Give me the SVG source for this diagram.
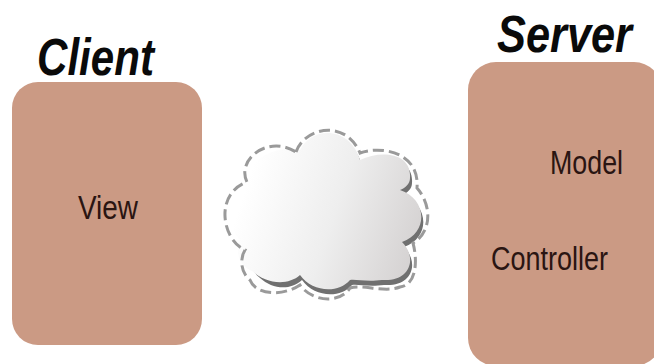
<svg xmlns="http://www.w3.org/2000/svg" width="654" height="364" viewBox="0 0 654 364">
<style>
.box{fill:#cb9a84}
.t{font-family:"Liberation Sans",Arial,sans-serif;fill:#2a1512;font-size:33px}
.h{font-family:"Liberation Sans",Arial,sans-serif;fill:#0a0a0a;font-size:52px;font-weight:bold;font-style:italic}
</style>
<defs>
<linearGradient id="g" gradientUnits="userSpaceOnUse" x1="245" y1="190" x2="420" y2="250"><stop offset="0" stop-color="#ffffff"/><stop offset="0.5" stop-color="#eeeeee"/><stop offset="1" stop-color="#d4d1d1"/></linearGradient>
<filter id="b" x="-5%" y="-5%" width="110%" height="110%"><feGaussianBlur stdDeviation="0.7"/></filter>
</defs>
<rect width="654" height="364" fill="#fff"/>
<g id="client">
<rect class="box" x="12" y="82" width="190" height="263" rx="26"/>
<text class="t" x="78" y="219" textLength="60" lengthAdjust="spacingAndGlyphs">View</text>
<text class="h" x="37" y="75" textLength="117" lengthAdjust="spacingAndGlyphs">Client</text>
</g>
<g id="server">
<rect class="box" x="468" y="62" width="194" height="304" rx="28"/>
<text class="t" x="550" y="174" textLength="73" lengthAdjust="spacingAndGlyphs">Model</text>
<text class="t" x="491" y="270" textLength="117" lengthAdjust="spacingAndGlyphs">Controller</text>
<text class="h" x="497" y="52" textLength="135" lengthAdjust="spacingAndGlyphs">Server</text>
</g>
<g id="cloud" filter="url(#b)">
<path id="cloud-halo" fill="#fff" d="M296,152 C304,128 345,118 360,153 C378,146 420,150 417,188 C432,205 432,232 413,243 C418,262 416,285 400,287 C385,293 362,284 350,288 C340,304 312,302 300,285 C284,296 256,296 250,280 C240,272 240,258 245,250 C222,240 214,194 247,182 C236,160 268,134 296,152 Z"/>
<path id="cloud-shadow" transform="translate(2,5)" fill="#6f6f6f" d="M300,150 C312,126 350,126 360,160 C380,150 412,152 410,178 C410,184 405,188 400,190 C426,198 430,232 402,242 C418,258 410,282 382,280 C366,282 356,279 350,280 C338,294 312,292 300,275 C288,286 270,284 258,273 C246,264 246,248 250,240 C236,226 240,194 252,186 C250,164 270,144 300,150 Z"/>
<path id="cloud-body" fill="url(#g)" d="M300,150 C312,126 350,126 360,160 C380,150 412,152 410,178 C410,184 405,188 400,190 C426,198 430,232 402,242 C418,258 410,282 382,280 C366,282 356,279 350,280 C338,294 312,292 300,275 C288,286 266,284 252,271 C236,264 236,248 240,240 C226,226 226,194 248,182 C246,164 270,144 300,150 Z"/>
<path id="cloud-dash" fill="none" stroke="#9a9a9a" stroke-width="3" stroke-dasharray="11 5" d="M296,152 C304,128 345,118 360,153 C378,146 420,150 417,188 C432,205 432,232 413,243 C418,262 416,285 400,287 C385,293 362,284 350,288 C340,304 312,302 300,285 C284,296 256,296 250,280 C240,272 240,258 245,250 C222,240 214,194 247,182 C236,160 268,134 296,152 Z"/>
</g>
</svg>
